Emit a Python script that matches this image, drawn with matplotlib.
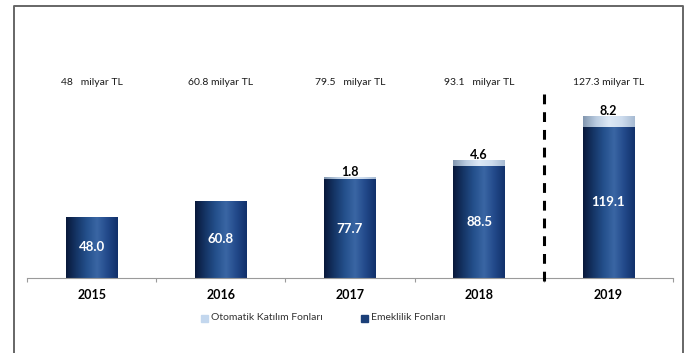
import numpy as np
import matplotlib.pyplot as plt
from matplotlib.colors import LinearSegmentedColormap
from matplotlib.patches import Rectangle
from matplotlib.lines import Line2D

plt.rcParams['font.family'] = ['Lato', 'DejaVu Sans']

years = ['2015', '2016', '2017', '2018', '2019']
emeklilik = [48.0, 60.8, 77.7, 88.5, 119.1]
otomatik = [0.0, 0.0, 1.8, 4.6, 8.2]
totals = ['48', '60.8', '79.5', '93.1', '127.3']
total_gap = ['  ', '', '  ', '  ', '']

dark_cmap = LinearSegmentedColormap.from_list(
    'navy', ['#08183a', '#153566', '#24508c', '#3a66a4', '#22498a', '#11306a'])
light_cmap = LinearSegmentedColormap.from_list(
    'pale', ['#8196ae', '#b9cbe0', '#dde9f6', '#cddcee', '#a6bad2'])

fig = plt.figure(figsize=(6.89, 3.53), dpi=100)
W, H = 689, 353
ax = fig.add_axes([27 / W, (H - 278) / H, (673 - 27) / W, (278 - 20) / H])

x = np.arange(len(years))
width = 0.40
grad = np.linspace(0, 1, 256).reshape(1, -1)


def gradient_bars(x, heights, bottoms, cmap):
    bars = ax.bar(x, heights, width, bottom=bottoms, facecolor='none',
                  edgecolor='none', zorder=3)
    for b in bars:
        if b.get_height() <= 0:
            continue
        x0, y0 = b.get_x(), b.get_y()
        im = ax.imshow(grad, extent=[x0, x0 + b.get_width(), y0, y0 + b.get_height()],
                       aspect='auto', cmap=cmap, zorder=2, interpolation='bilinear')
        im.set_clip_path(b)
    return bars


gradient_bars(x, emeklilik, 0, dark_cmap)
gradient_bars(x, otomatik, emeklilik, light_cmap)

ax.set_xlim(-0.5, len(years) - 0.5)
ax.set_ylim(0, 203)

# values inside and above the bars
for i in range(len(years)):
    ax.text(x[i], emeklilik[i] / 2, f'{emeklilik[i]:.1f}', ha='center', va='center',
            color='white', fontsize=9.5, fontweight='bold', zorder=4)
    if otomatik[i] > 0:
        ax.text(x[i], emeklilik[i] + otomatik[i] - 0.8, f'{otomatik[i]:.1f}',
                ha='center', va='bottom', color='black', fontsize=9,
                fontweight='bold', zorder=4)
    ax.text(x[i], 154, f'{totals[i]}{total_gap[i]} milyar TL', ha='center',
            va='center', color='#1a1a1a', fontsize=7.5)

# separator before the last year
ax.plot([3.5, 3.5], [-2, 147], color='black', lw=2.2, ls=(0, (3.2, 2.6)),
        clip_on=False, zorder=4)

for s in ['top', 'right', 'left']:
    ax.spines[s].set_visible(False)
ax.spines['bottom'].set_color('#9a9a9a')
ax.spines['bottom'].set_linewidth(0.8)
ax.set_yticks([])
ax.set_xticks(x)
ax.set_xticklabels(years, fontsize=9, fontweight='bold')
ax.tick_params(axis='x', which='major', length=0, pad=8)
ax.set_xticks(np.arange(-0.5, len(years)), minor=True)
ax.tick_params(axis='x', which='minor', length=3, color='#9a9a9a', width=0.8)

# legend
fig.patches.append(Rectangle((201 / W, (H - 322) / H), 7 / W, 7 / H,
                             transform=fig.transFigure, color='#c3d7ee'))
fig.text(211 / W, (H - 318) / H, 'Otomatik Katılım Fonları', fontsize=7.5,
         color='#333333', va='center')
fig.patches.append(Rectangle((361 / W, (H - 322) / H), 7 / W, 7 / H,
                             transform=fig.transFigure, color='#1b3f78'))
fig.text(371 / W, (H - 318) / H, 'Emeklilik Fonları', fontsize=7.5,
         color='#333333', va='center')

# outer frame: left, top and right edges only
left, right, top = 13.5 / W, 683 / W, (H - 5.5) / H
fig.lines.append(Line2D([left, left, right, right], [0, top, top, 0],
                        transform=fig.transFigure, color='#666666', lw=1.4))

fig.savefig('out.png', dpi=100)
